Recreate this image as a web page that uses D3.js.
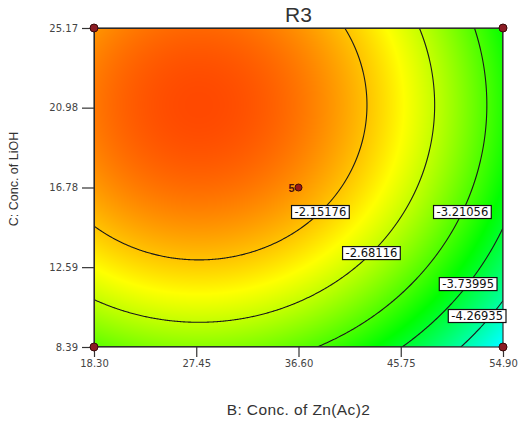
<!DOCTYPE html>
<html>
<head>
<meta charset="utf-8">
<script src="https://cdn.jsdelivr.net/npm/d3@7"></script>
<style>
  body { margin: 0; background: #fff; }
  svg { font-family: "Liberation Sans", Arial, sans-serif; }
</style>
</head>
<body>
<div id="chart"></div>
<script>
// factor ranges (actual units)
var bRange = [18.30, 54.90];
var cRange = [8.39, 25.17];
var xTicks = [18.30, 27.45, 36.60, 45.75, 54.90];
var yTicks = [8.39, 12.59, 16.78, 20.98, 25.17];

// quadratic model in coded units: intercept, B, C, B^2, C^2
var coef = [-1.952, -0.789, 0.600, -0.81, -0.58];

// contour levels and the C value where each label sits
var levels = [-2.15176, -2.68116, -3.21056, -3.73995, -4.26935];
var labelC = [15.49, 13.33, 15.49, 11.70, 10.02];

// design points
var cornerPts = [[18.30, 8.39], [54.90, 8.39], [18.30, 25.17], [54.90, 25.17]];
var centerPts = [{ b: 36.60, c: 16.78, n: 5 }];

// colour ramp (blue = low, red = high)
var colorVals = [-5.8, -4.67, -3.54, -2.42, -1.28];
var colorRange = ["#0000ff", "#00ffff", "#00ff00", "#ffff00", "#ff0000"];

var width = 525, height = 428;
var x0 = 94, x1 = 503, y0 = 28, y1 = 347;

var x = d3.scaleLinear().domain(bRange).range([x0, x1]);
var y = d3.scaleLinear().domain(cRange).range([y1, y0]);
var color = d3.scaleLinear().domain(colorVals).range(colorRange).clamp(true);

function model(b, c) {
    var X = (b - 36.6) / 18.3;
    var Y = (c - 16.78) / 8.39;
    return coef[0] + coef[1] * X + coef[2] * Y + coef[3] * X * X + coef[4] * Y * Y;
}

var svg = d3.select("#chart").append("svg")
    .attr("width", width)
    .attr("height", height);

// grid of values, one per pixel
var nx = x1 - x0, ny = y1 - y0;
var values = new Float64Array(nx * ny);
for (var j = 0; j < ny; j++) {
    var cv = y.invert(y0 + j + 0.5);
    for (var i = 0; i < nx; i++) {
        values[j * nx + i] = model(x.invert(x0 + i + 0.5), cv);
    }
}

// filled surface via canvas -> image
var canvas = document.createElement("canvas");
canvas.width = nx; canvas.height = ny;
var ctx = canvas.getContext("2d");
var img = ctx.createImageData(nx, ny);
for (var k = 0; k < values.length; k++) {
    var col = d3.rgb(color(values[k]));
    img.data[k * 4] = col.r;
    img.data[k * 4 + 1] = col.g;
    img.data[k * 4 + 2] = col.b;
    img.data[k * 4 + 3] = 255;
}
ctx.putImageData(img, 0, 0);

svg.append("defs").append("clipPath").attr("id", "plotclip")
    .append("rect").attr("x", x0).attr("y", y0).attr("width", nx).attr("height", ny);

svg.append("image")
    .attr("x", x0).attr("y", y0)
    .attr("width", nx).attr("height", ny)
    .attr("preserveAspectRatio", "none")
    .attr("href", canvas.toDataURL());

// contour lines
var contours = d3.contours().size([nx, ny]).thresholds(levels)(values);
var path = d3.geoPath(d3.geoTransform({
    point: function (px, py) { this.stream.point(x0 + px, y0 + py); }
}));
svg.append("g")
    .attr("clip-path", "url(#plotclip)")
    .selectAll("path")
    .data(contours)
    .enter().append("path")
    .attr("d", path)
    .attr("fill", "none")
    .attr("stroke", "#1a1a1a")
    .attr("stroke-width", 1.1);

// frame
svg.append("rect")
    .attr("x", x0).attr("y", y0)
    .attr("width", nx).attr("height", ny)
    .attr("fill", "none")
    .attr("stroke", "#333")
    .attr("stroke-width", 1.2);

// axes
var xAxis = svg.append("g")
    .attr("transform", "translate(0," + y1 + ")")
    .call(d3.axisBottom(x).tickValues(xTicks).tickFormat(d3.format(".2f")).tickSize(10).tickSizeOuter(0));
var yAxis = svg.append("g")
    .attr("transform", "translate(" + x0 + ",0)")
    .call(d3.axisLeft(y).tickValues(yTicks).tickFormat(d3.format(".2f")).tickSize(12).tickSizeOuter(0));
[xAxis, yAxis].forEach(function (a) {
    a.select(".domain").remove();
    a.selectAll("line").attr("stroke", "#333").attr("stroke-width", 1.2);
    a.selectAll("text")
        .attr("fill", "#444")
        .style("font-family", "'DejaVu Sans', Verdana, sans-serif")
        .style("font-size", "10px");
});
xAxis.selectAll("text").attr("y", 13);
yAxis.selectAll("text").attr("x", -16);

// contour labels
levels.forEach(function (lv, k) {
    var c = labelC[k];
    var lo = 29.7, hi = bRange[1];
    if (model(hi, c) > lv) { lo = hi; }
    else {
        for (var it = 0; it < 40; it++) {
            var mid = (lo + hi) / 2;
            if (model(mid, c) > lv) lo = mid; else hi = mid;
        }
    }
    var px = x(lo), py = y(c);
    var g = svg.append("g");
    var t = g.append("text")
        .attr("text-anchor", "middle")
        .attr("dy", "0.36em")
        .style("font-family", "'DejaVu Sans', Verdana, sans-serif")
        .style("font-size", "11.5px")
        .attr("fill", "#111")
        .text(lv.toFixed(5));
    var bb = t.node().getBBox();
    var w = bb.width + 6, h = 13;
    var cx = Math.min(px, x1 + 3 - w / 2);
    t.attr("x", cx).attr("y", py);
    g.insert("rect", "text")
        .attr("x", cx - w / 2).attr("y", py - h / 2)
        .attr("width", w).attr("height", h)
        .attr("fill", "#fff")
        .attr("stroke", "#111")
        .attr("stroke-width", 1.2);
});

// design points
svg.selectAll(".corner")
    .data(cornerPts)
    .enter().append("circle")
    .attr("cx", function (d) { return x(d[0]); })
    .attr("cy", function (d) { return y(d[1]); })
    .attr("r", 4)
    .attr("fill", "#8b1c24")
    .attr("stroke", "#3a0a0a");

var cp = svg.selectAll(".center").data(centerPts).enter().append("g");
cp.append("circle")
    .attr("cx", function (d) { return x(d.b); })
    .attr("cy", function (d) { return y(d.c); })
    .attr("r", 3.5)
    .attr("fill", "#9a1818")
    .attr("stroke", "#3a0a0a");
cp.append("text")
    .attr("x", function (d) { return x(d.b) - 4; })
    .attr("y", function (d) { return y(d.c) + 4; })
    .attr("text-anchor", "end")
    .style("font-size", "11px")
    .style("font-weight", "bold")
    .attr("fill", "#4a1010")
    .text(function (d) { return d.n; });

// titles
svg.append("text")
    .attr("x", (x0 + x1) / 2).attr("y", 22)
    .attr("text-anchor", "middle")
    .style("font-size", "21px")
    .attr("fill", "#333")
    .text("R3");

svg.append("text")
    .attr("x", (x0 + x1) / 2).attr("y", 415)
    .attr("text-anchor", "middle")
    .style("font-size", "15.5px")
    .style("letter-spacing", "0.4px")
    .attr("fill", "#333")
    .text("B: Conc. of Zn(Ac)2");

svg.append("text")
    .attr("transform", "translate(18,179) rotate(-90)")
    .attr("text-anchor", "middle")
    .style("font-size", "12.5px")
    .attr("fill", "#333")
    .text("C: Conc. of LiOH");
</script>
</body>
</html>
